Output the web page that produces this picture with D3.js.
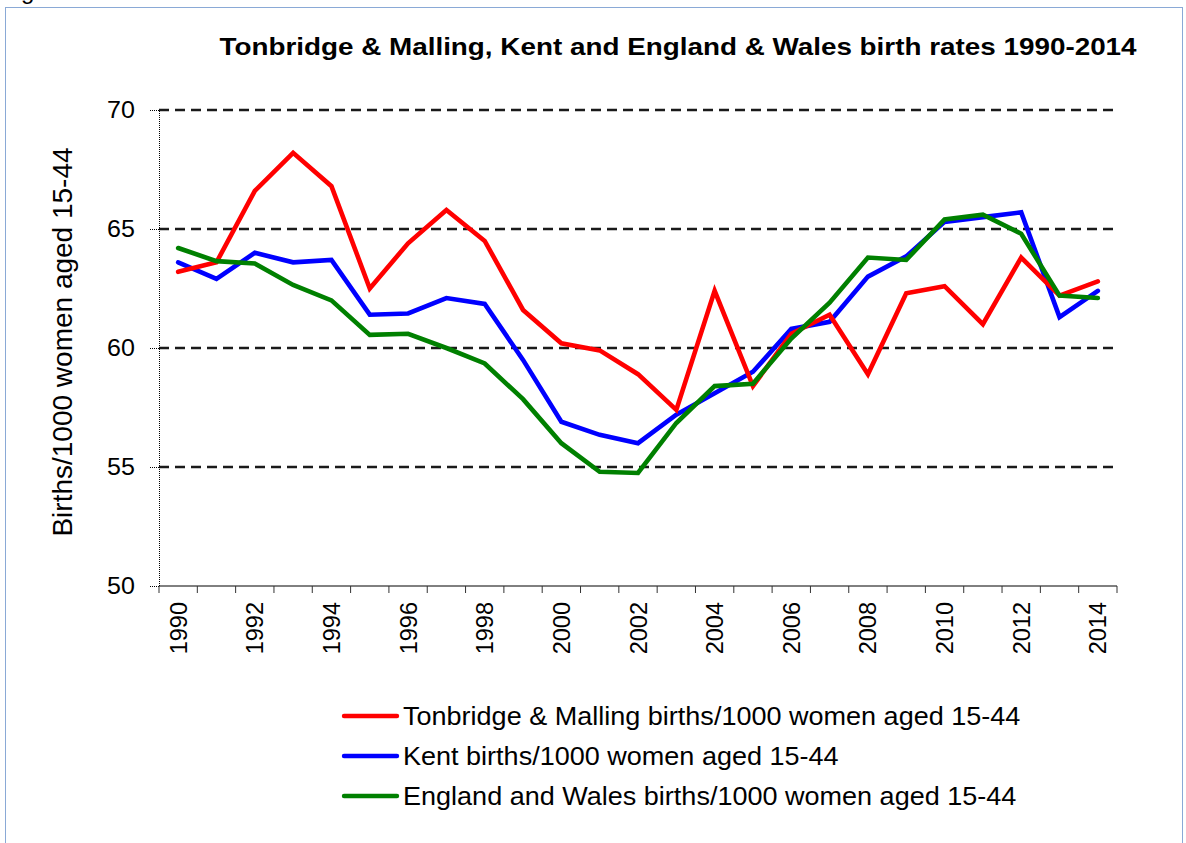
<!DOCTYPE html>
<html>
<head>
<meta charset="utf-8">
<script src="https://cdn.jsdelivr.net/npm/d3@7"></script>
<style>
  html, body { margin: 0; padding: 0; background: #ffffff; }
  svg { display: block; font-family: "Liberation Sans", Arial, sans-serif; }
</style>
</head>
<body>
<svg id="chart" width="1186" height="843"></svg>
<script>
// Birth rates per 1000 women aged 15-44, 1990-2014
const years = d3.range(1990, 2015);

const tonbridge = [63.2, 63.6, 66.6, 68.2, 66.8, 62.5, 64.4, 65.8, 64.5, 61.6,
                   60.2, 59.9, 58.9, 57.4, 62.4, 58.4, 60.6, 61.4, 58.9, 62.3,
                   62.6, 61.0, 63.8, 62.2, 62.8];
const kent = [63.6, 62.9, 64.0, 63.6, 63.7, 61.4, 61.45, 62.1, 61.85, 59.5,
              56.9, 56.35, 56.0, 57.2, 58.1, 59.0, 60.8, 61.1, 63.0, 63.85,
              65.3, 65.5, 65.7, 61.3, 62.4];
const englandWales = [64.2, 63.65, 63.55, 62.65, 62.0, 60.55, 60.6, 60.0, 59.35, 57.85,
                      56.0, 54.8, 54.75, 56.85, 58.4, 58.5, 60.4, 61.9, 63.8, 63.7,
                      65.4, 65.6, 64.8, 62.2, 62.1];

const seriesNames = [
  "Tonbridge & Malling births/1000 women aged 15-44",
  "Kent births/1000 women aged 15-44",
  "England and Wales births/1000 women aged 15-44"
];
const seriesColors = ["#ff0000", "#0000ff", "#008000"];
const seriesValues = [tonbridge, kent, englandWales];

const yTicks = [50, 55, 60, 65, 70];
const gridValues = [55, 60, 65, 70];
const xLabelYears = years.filter(y => y % 2 === 0);

const titleText = "Tonbridge & Malling, Kent and England & Wales birth rates 1990-2014";
const yTitleText = "Births/1000 women aged 15-44";

const svg = d3.select("#chart");

// outer frame of the chart object
svg.append("rect")
  .attr("x", 5.5).attr("y", 7.5)
  .attr("width", 1177).attr("height", 850)
  .attr("fill", "none")
  .attr("stroke", "#8aa9d6")
  .attr("stroke-width", 1);

// tail of the caption text that sits above the chart
svg.append("text")
  .attr("x", 21).attr("y", -1)
  .attr("font-size", 24)
  .attr("fill", "#000")
  .text("g");

const plot = { left: 159, right: 1117, top: 110, bottom: 586 };

const x = d3.scaleBand().domain(years).range([plot.left, plot.right]).padding(0);
const y = d3.scaleLinear().domain([50, 70]).range([plot.bottom, plot.top]);
const cx = yr => x(yr) + x.bandwidth() / 2;

// stretched text helper: glyphs are slightly wider than the font's natural width
function stretchedText(sel, px, py, sx) {
  return sel.attr("transform", `translate(${px},${py}) scale(${sx},1)`);
}

// title
stretchedText(svg.append("text"), 678, 55, 1.16)
  .attr("text-anchor", "middle")
  .attr("font-size", 24)
  .attr("font-weight", "bold")
  .attr("fill", "#000")
  .text(titleText);

// dashed horizontal gridlines
svg.append("g")
  .selectAll("line")
  .data(gridValues)
  .join("line")
  .attr("x1", plot.left).attr("x2", plot.right)
  .attr("y1", d => y(d)).attr("y2", d => y(d))
  .attr("stroke", "#1a1a1a")
  .attr("stroke-width", 2.6)
  .attr("stroke-dasharray", "10,6");

// y axis: dotted line and dotted ticks
const yAxis = svg.append("g")
  .attr("transform", `translate(${plot.left},0)`)
  .call(d3.axisLeft(y).tickValues(yTicks).tickSize(9).tickFormat(""));
yAxis.select(".domain")
  .attr("stroke", "#000").attr("stroke-width", 1).attr("stroke-dasharray", "1,1");
yAxis.selectAll(".tick line")
  .attr("stroke", "#000").attr("stroke-width", 1).attr("stroke-dasharray", "1,1");

svg.append("g")
  .selectAll("text")
  .data(yTicks)
  .join("text")
  .each(function (d) { stretchedText(d3.select(this), 135, y(d) + 8.3, 1.09); })
  .attr("text-anchor", "end")
  .attr("font-size", 23)
  .attr("fill", "#000")
  .text(d => d);

// y axis title
svg.append("text")
  .attr("transform", `translate(72,342) rotate(-90)`)
  .attr("text-anchor", "middle")
  .attr("font-size", 28)
  .attr("fill", "#000")
  .text(yTitleText);

// x axis: baseline, ticks at category boundaries, rotated year labels
svg.append("line")
  .attr("x1", plot.left).attr("x2", plot.right)
  .attr("y1", plot.bottom).attr("y2", plot.bottom)
  .attr("stroke", "#000").attr("stroke-width", 1);

const boundaries = years.map(yr => x(yr)).concat([x(years[years.length - 1]) + x.bandwidth()]);
svg.append("g")
  .selectAll("line")
  .data(boundaries)
  .join("line")
  .attr("x1", d => d).attr("x2", d => d)
  .attr("y1", plot.bottom).attr("y2", plot.bottom + 7)
  .attr("stroke", "#333").attr("stroke-width", 1);

const xAxis = svg.append("g")
  .attr("transform", `translate(0,${plot.bottom})`)
  .call(d3.axisBottom(x).tickValues(xLabelYears).tickSize(0).tickPadding(0));
xAxis.select(".domain").remove();
xAxis.selectAll(".tick text")
  .attr("font-family", "Liberation Sans, Arial, sans-serif")
  .attr("font-size", 23.5)
  .attr("fill", "#000")
  .attr("text-anchor", "end")
  .attr("dy", null)
  .attr("y", null)
  .attr("transform", "translate(8.5,16) rotate(-90)");

// series lines (Kent underneath, then Tonbridge, then England & Wales)
const line = d3.line().x((d, i) => cx(years[i])).y(d => y(d));
const drawOrder = [1, 0, 2];
svg.append("g")
  .selectAll("path")
  .data(drawOrder)
  .join("path")
  .attr("d", k => line(seriesValues[k]))
  .attr("fill", "none")
  .attr("stroke", k => seriesColors[k])
  .attr("stroke-width", 4.6)
  .attr("stroke-linejoin", "miter")
  .attr("stroke-linecap", "round");

// legend
const legend = svg.append("g");
const legendRows = seriesNames.map((name, i) => ({ name, color: seriesColors[i], i }));
legend.selectAll("line")
  .data(legendRows)
  .join("line")
  .attr("x1", 344).attr("x2", 397)
  .attr("y1", d => 716 + d.i * 40).attr("y2", d => 716 + d.i * 40)
  .attr("stroke", d => d.color)
  .attr("stroke-width", 4.4)
  .attr("stroke-linecap", "round");
legend.selectAll("text")
  .data(legendRows)
  .join("text")
  .each(function (d) { stretchedText(d3.select(this), 403, 725 + d.i * 40, 1.06); })
  .attr("font-size", 25.5)
  .attr("fill", "#000")
  .text(d => d.name);
</script>
</body>
</html>
